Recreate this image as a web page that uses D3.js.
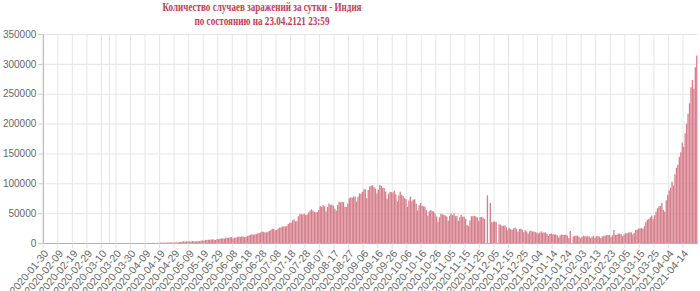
<!DOCTYPE html>
<html>
<head>
<meta charset="utf-8">
<script src="https://cdn.jsdelivr.net/npm/d3@7/dist/d3.min.js"></script>
<style>
	body { margin: 0; background: #fff; }
	svg { display: block; }
</style>
</head>
<body>
<div id="chart"></div>
<script>
// first day shown on the axis, one bar per day after that
var startDate = "2020-01-30";

// daily new cases, one array per calendar month of the axis
var casesFeb20 = [0,1,0,0,1,1,0,0,0,0,0,0,0,0,0,0,0,0,0,0,0,0,0,0,0,0,0,0,0,0,0];
var casesMar20 = [0,0,2,1,22,2,1,3,5,4,18,6,11,9,20,11,6,23,14,38,50,86,66,103,37,121,70,160,100,187,92];
var casesApr20 = [303,601,545,624,579,609,484,573,565,813,871,854,758,1243,1031,886,1061,922,1371,1580,1239,1537,1292,1667,1408,1835,1607,1568,1902,1705];
var casesMay20 = [1801,2396,2564,2952,3656,2971,3602,3344,3339,3175,4311,3592,3562,3726,3991,3808,4794,5049,4628,6147,5553,6198,6568,6629,7113,6414,5843,7293,7300,8105,8380];
var casesJun20 = [8392,8171,9633,9889,9471,10438,10864,8442,9987,9683,11128,11458,10956,12036,11502,10667,10974,12881,13586,14516,15403,14831,14933,15968,16922,17296,18552,19906,19459,18522];
var casesJul20 = [18653,19148,20903,22771,24850,24248,22252,22752,24879,26506,27114,28637,28701,28498,29429,32695,34956,34884,38902,40425,37148,37724,45720,49310,48916,48661,49931,47703,48513,52123,55079];
var casesAug20 = [57118,54736,52972,52050,52509,56282,62538,61537,64399,62064,53601,60963,66999,64553,65002,63490,57981,55079,64531,69652,68898,69878,69239,61408,60975,67151,75760,77266,76472,78761,78512];
var casesSep20 = [69921,78357,83883,83341,86432,90632,90802,75809,89706,95735,96551,97570,94372,92071,83809,90123,97894,96424,93337,92605,86961,75083,83347,86508,86052,85362,88600,82170,70589,80472];
var casesOct20 = [86821,81484,79476,75829,74442,61267,72049,78524,70496,73272,74383,66732,55342,63509,67708,63371,62212,61871,55722,46790,54044,55839,54366,53370,50129,45148,36470,43893,49881,48648,48268];
var casesNov20 = [46963,45231,38310,46253,50210,47638,50357,45674,45903,38073,44281,47905,44879,44878,41100,30548,29163,38617,45576,45882,46232,45209,44059,37975,44376,44489,43082,41322,0,80582];
var casesDec20 = [0,67722,35551,36595,36652,36011,0,32080,31522,29398,30006,30254,27071,22065,26382,24010,22890,25153,26624,24337,19556,23950,24712,23067,18732,22273,20021,16432,20550,21822,20035];
var casesJan21 = [20035,19079,18177,16505,18088,20346,18139,18222,18645,16311,12584,15968,16946,15590,15158,15144,13788,10064,13823,15223,14545,14256,14849,13203,9102,20900,0,11666,12800,13083,13052];
var casesFeb21 = [11427,8635,11039,12899,12408,11713,12059,11831,9110,11067,12923,9309,12143,12194,11649,9121,11610,12881,13193,13993,14264,14199,10584,13742,22600,14500,14199,16577];
var casesMar21 = [16752,15510,12286,14989,17407,16838,18327,18711,18599,15388,17921,22854,23285,24882,25320,26291,24492,28903,35871,39726,40953,43846,46951,40715,47262,53476,59118,62258,62714,68020,56211];
var casesApr21 = [53480,72330,81466,89129,93249,103558,96982,115736,126789,131968,145384,152879,168912,161736,184372,200739,217353,234692,261500,273810,259170,295041,314835];

var yTicks = [0, 50000, 100000, 150000, 200000, 250000, 300000, 350000];
var labelStep = 10;            // every 10th day gets a label
var markerDate = "2020-03-15"; // extra vertical line
var titleLines = ["Количество случаев заражений за сутки - Индия", "по состоянию на 23.04.2121 23:59"];

var cases = [].concat(casesFeb20, casesMar20, casesApr20, casesMay20, casesJun20, casesJul20,
	casesAug20, casesSep20, casesOct20, casesNov20, casesDec20, casesJan21, casesFeb21, casesMar21, casesApr21);

var parse = d3.utcParse("%Y-%m-%d");
var fmt = d3.utcFormat("%Y-%m-%d");
var days = cases.map(function(d, i) { return fmt(d3.utcDay.offset(parse(startDate), i)); });

var width = 700, height = 291;
// plot area (window.top is reserved, so prefixed names)
var plotLeft = 43.3, plotRight = 697.5, plotTop = 34.5, plotBottom = 243.5;

var svg = d3.select("#chart").append("svg")
	.attr("width", width)
	.attr("height", height);

// scales
var x = d3.scaleBand().domain(days).range([plotLeft, plotRight]).padding(0);
var xi = d3.scaleLinear().domain([0, days.length]).range([plotLeft, plotRight]);
var y = d3.scaleLinear().domain([0, 350000]).range([plotBottom, plotTop]);

// horizontal grid
svg.append("g")
	.attr("transform", "translate(" + plotLeft + ",0)")
	.call(d3.axisLeft(y).tickValues(yTicks).tickSize(-(plotRight - plotLeft)).tickFormat("").offset(0))
	.call(function(g) {
		g.select(".domain").remove();
		g.selectAll("line").attr("stroke", "#e6e6e6");
	});

// vertical grid at the labelled days
var labelIdx = d3.range(0, days.length, labelStep);
svg.append("g")
	.attr("transform", "translate(0," + plotTop + ")")
	.call(d3.axisBottom(xi).tickValues(labelIdx).tickSize(plotBottom - plotTop).tickFormat("").offset(0))
	.call(function(g) {
		g.select(".domain").remove();
		g.selectAll("line").attr("stroke", "#e6e6e6");
	});

svg.append("line")
	.attr("x1", x(markerDate) + x.bandwidth() / 2)
	.attr("x2", x(markerDate) + x.bandwidth() / 2)
	.attr("y1", plotTop)
	.attr("y2", plotBottom)
	.attr("stroke", "#e6e6e6");

// bars
svg.append("g").selectAll("rect")
	.data(cases)
	.enter().append("rect")
	.attr("x", function(d, i) { return x(days[i]) + x.bandwidth() * 0.05; })
	.attr("width", x.bandwidth() * 0.9)
	.attr("y", function(d) { return y(d); })
	.attr("height", function(d) { return y(0) - y(d); })
	.attr("fill", "#d67e8b");

// y axis
svg.append("g")
	.attr("transform", "translate(" + plotLeft + ",0)")
	.call(d3.axisLeft(y).tickValues(yTicks).tickSize(5).tickPadding(2).tickFormat(d3.format("d")).offset(0))
	.call(function(g) {
		g.select(".domain").attr("stroke", "#b3b3b3");
		g.selectAll("line").attr("stroke", "#cccccc");
		g.selectAll("text")
			.attr("fill", "#666")
			.style("font", "10px 'Liberation Sans', Arial, sans-serif");
	});

// x axis, labels rotated and running off the bottom edge like the original
svg.append("g")
	.attr("transform", "translate(0," + plotBottom + ")")
	.call(d3.axisBottom(xi).tickValues(labelIdx).tickSize(5).tickSizeOuter(0)
		.tickFormat(function(i) { return days[i]; }).offset(0))
	.call(function(g) {
		g.select(".domain").attr("stroke", "#b3b3b3");
		g.selectAll("line").attr("stroke", "#e0e0e0");
		g.selectAll("text")
			.attr("fill", "#666")
			.attr("text-anchor", "end")
			.attr("x", 0)
			.attr("y", 0)
			.attr("dy", "0.35em")
			.attr("transform", "translate(3,8) rotate(-50)")
			.style("font", "10.5px 'Liberation Sans', Arial, sans-serif");
	});

// title
svg.append("g").selectAll("text")
	.data(titleLines)
	.enter().append("text")
	.attr("x", 262)
	.attr("y", function(d, i) { return 11 + i * 14; })
	.attr("text-anchor", "middle")
	.attr("textLength", function(d, i) { return i === 0 ? 199 : 135; })
	.attr("lengthAdjust", "spacingAndGlyphs")
	.attr("fill", "#c83a55")
	.style("font", "bold 13.5px 'Liberation Serif', 'Times New Roman', serif")
	.text(function(d) { return d; });
</script>
</body>
</html>
